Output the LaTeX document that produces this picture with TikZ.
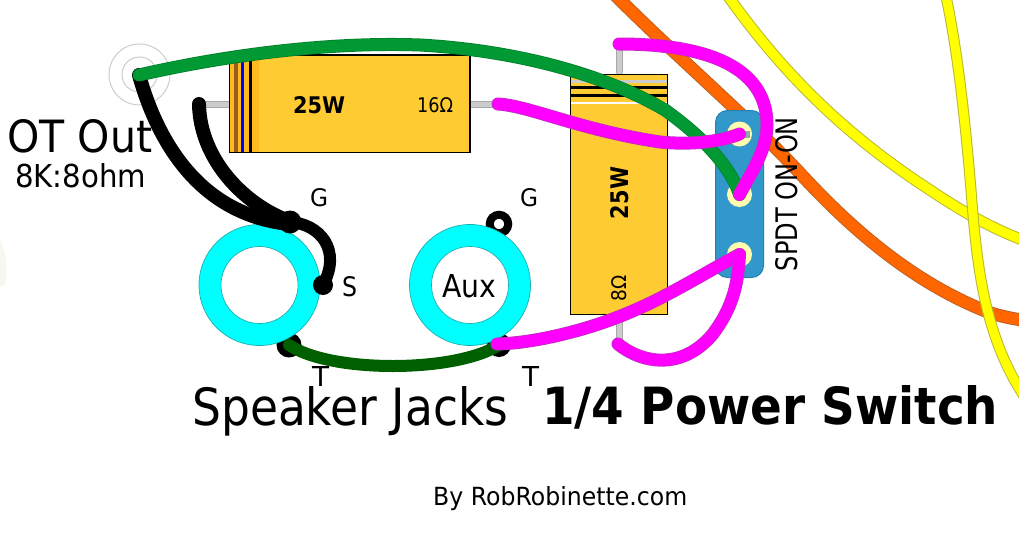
\documentclass[tikz,border=0pt]{standalone}
\usepackage{graphicx}
\usepackage{fontspec}
\setmainfont{DejaVu Sans}
\definecolor{resbody}{HTML}{FFCB33}
\definecolor{resdark}{HTML}{FFBA1F}
\definecolor{bandbrown}{HTML}{9A5B1E}
\definecolor{leadgray}{HTML}{CCCCCC}
\definecolor{leadedge}{HTML}{A8A8A8}
\definecolor{ringcyan}{HTML}{00FFFF}
\definecolor{jackedge}{HTML}{19B0B0}
\definecolor{lugc}{HTML}{FFFBAF}
\definecolor{lugrect}{HTML}{8FA8B0}
\definecolor{blueb}{HTML}{3298CC}
\definecolor{blueedge}{HTML}{2A7FAA}
\definecolor{grn}{HTML}{009933}
\definecolor{grne}{HTML}{007F2A}
\definecolor{dgrn}{HTML}{006000}
\definecolor{magw}{HTML}{FF00FF}
\definecolor{mage}{HTML}{C030C0}
\definecolor{orw}{HTML}{FF6600}
\definecolor{ore}{HTML}{C06020}
\definecolor{yel}{HTML}{FFFF00}
\definecolor{yele}{HTML}{B8B830}
\definecolor{faint}{HTML}{F7F7F0}
\tikzset{
 resistor/.style={draw=black,line width=1pt,fill=resbody,inner sep=0pt},
 jackring/.style={circle,draw=jackedge,line width=.7pt,fill=ringcyan,inner sep=0pt,minimum size=121pt},
 jackhole/.style={circle,draw=jackedge,line width=.7pt,fill=white,inner sep=0pt,minimum size=77pt},
 lugdisc/.style={circle,fill=lugc,inner sep=0pt,minimum size=25pt},
 tag/.style={inner sep=0pt,anchor=base west},
 blob/.style={circle,fill=black,inner sep=0pt,minimum size=#1},
}
\newcommand{\fitbox}[3]{\resizebox{#1pt}{#2pt}{#3}}
% cased wire: edge colour, fill colour, edge width, fill width, path
\newcommand{\wirepath}[5]{%
  \draw[line cap=round,line width=#3pt,draw=#1] #5;
  \draw[line cap=round,line width=#4pt,draw=#2] #5;}
\begin{document}
\begin{tikzpicture}[x=1pt,y=-1pt]
\useasboundingbox (0,0) rectangle (1019,533);
\fill[white] (0,0) rectangle (1019,533);
\fill[faint] (0,240) .. controls (6,250) and (8,270) .. (5,285) -- (0,287) -- cycle;
% background wires
\wirepath{ore}{orw}{13}{11}{(612,-8) .. controls (680,60) and (740,110) .. (797,170) .. controls (850,228) and (910,280) .. (983,310) .. controls (995,315) and (1008,318) .. (1028,321)}
\wirepath{yele}{yel}{11.5}{9.5}{(725,-8) .. controls (772,58) and (830,125) .. (930,190) .. controls (960,210) and (990,228) .. (1028,242)}
\wirepath{yele}{yel}{11}{9}{(945,-8) .. controls (958,50) and (966,130) .. (971,190) .. controls (977,270) and (985,340) .. (1028,402)}
% OT terminal
\node[circle,draw=leadgray,line width=1pt,inner sep=0pt,minimum size=61pt] (otouter) at (139.5,74.5) {};
\node[circle,draw=leadgray,line width=1pt,inner sep=0pt,minimum size=35pt] (otinner) at (139.5,74.5) {};
% resistor leads
\coordinate (l16a) at (200,104); \coordinate (l16b) at (232,104);
\coordinate (l16c) at (467,104); \coordinate (l16d) at (498,104);
\coordinate (l8a) at (619,46); \coordinate (l8b) at (619,72);
\coordinate (l8c) at (619,317); \coordinate (l8d) at (619,345);
\wirepath{leadedge}{leadgray}{7}{5}{(l16a) -- (l16b)}
\wirepath{leadedge}{leadgray}{7}{5}{(l16c) -- (l16d)}
\wirepath{leadedge}{leadgray}{7}{5}{(l8a) -- (l8b)}
\wirepath{leadedge}{leadgray}{7}{5}{(l8c) -- (l8d)}
% 16 ohm resistor
\node[resistor,minimum width=240pt,minimum height=97pt] (r16) at (349.5,103.5) {};
\fill[resdark] (229.5,55.5) rectangle (259,151.5);
\fill[bandbrown] (233.5,55.5) rectangle (237.5,151.5);
\fill[blue] (240.7,55.5) rectangle (244,151.5);
\fill[black] (249,55.5) rectangle (252,151.5);
\draw[black,line width=1pt] (r16.south west) rectangle (r16.north east);
\node[tag] (t25a) at (293,113) {\fitbox{52}{17}{\bfseries 25W}};
\node[tag] (t16) at (417,112) {\fitbox{36}{15}{16Ω}};
% 8 ohm resistor
\node[resistor,minimum width=97pt,minimum height=240pt] (r8) at (619,194.3) {};
\fill[leadgray] (571,80) rectangle (667,82.5);
\fill[black] (571,85.5) rectangle (667,88.5);
\fill[black] (571,93.5) rectangle (667,96.5);
\fill[white] (571,101.5) rectangle (667,103.5);
\node[inner sep=0pt,rotate=90] (t25b) at (620,193) {\fitbox{52}{18}{\bfseries 25W}};
\node[inner sep=0pt,rotate=90] (t8) at (619.5,288) {\fitbox{26}{15}{8Ω}};
% switch
\node[draw=blueedge,line width=1pt,fill=blueb,rounded corners=12pt,minimum width=48pt,minimum height=167pt,inner sep=0pt] (sw) at (739.5,194) {};
\node[lugdisc] (lug1) at (739.5,134) {};
\node[lugdisc] (lug2) at (739.5,194.5) {};
\node[lugdisc] (lug3) at (739.5,254.5) {};
\fill[lugrect] (743,131) rectangle (750,138);
\fill[lugrect] (733,190) rectangle (746,197);
\fill[lugrect] (733,251) rectangle (746,258);
\node[inner sep=0pt,rotate=90] (spdt) at (786.5,194) {\fitbox{154}{22}{SPDT ON-ON}};
% jack lugs
\node[blob=25pt] (lugTL) at (289,345) {};
\node[blob=24pt] (lugTR) at (499,345) {};
\node[circle,draw=black,line width=8pt,fill=white,inner sep=0pt,minimum size=18.5pt] (lugG) at (499,224) {};
% jacks
\node[jackring] (jackL) at (259.5,285) {};
\node[jackhole] (holeL) at (259.5,285) {};
\node[jackring] (jackR) at (470,285) {};
\node[jackhole] (holeR) at (470,285) {};
\node[tag] (aux) at (442,297) {\fitbox{54}{23}{Aux}};
% black wires
\node[blob=23pt] (lugGL) at (290,222) {};
\node[blob=20pt] (lugS) at (323,285) {};
\coordinate (ot1) at (139,75);
\coordinate (blk2) at (199,104);
\draw[line cap=round,line width=14pt,black] (ot1) .. controls (160,150) and (205,215) .. (289,224);
\draw[line cap=round,line width=14pt,black] (blk2) .. controls (200,160) and (245,205) .. (289,221);
\draw[line cap=round,line width=12pt,black] (lugGL.center) .. controls (320,224) and (342,250) .. (lugS.center);
% dark green
\draw[line cap=round,line width=12pt,draw=dgrn] (lugTL.center) .. controls (330,373) and (455,373) .. (lugTR.center);
% green wire
\wirepath{grne}{grn}{13}{11.5}{(ot1) .. controls (240,52) and (340,42) .. (420,45) .. controls (510,50) and (600,72) .. (665,110) .. controls (700,135) and (730,165) .. (lug2.center)}
% magenta wires
\wirepath{mage}{magw}{13}{11.5}{(498,104) .. controls (530,106) and (580,130) .. (660,142) .. controls (690,145) and (720,142) .. (lug1.center)}
\wirepath{mage}{magw}{13}{11.5}{(619,44) .. controls (680,44) and (767,55) .. (767,125) .. controls (767,150) and (750,175) .. (lug2.center)}
\wirepath{mage}{magw}{13}{11.5}{(497,344) .. controls (535,343) and (590,330) .. (635,310) .. controls (670,295) and (710,270) .. (lug3.center)}
\wirepath{mage}{magw}{13}{11.5}{(618,344) .. controls (640,362) and (680,372) .. (712,335) .. controls (735,305) and (738,280) .. (lug3.center)}
% labels
\node[tag] (ot) at (7,152) {\fitbox{145}{33}{OT Out}};
\node[tag] (ratio) at (15,187) {\fitbox{131}{24}{8K:8ohm}};
\node[tag] (gl) at (310,206) {\fitbox{18}{18}{G}};
\node[tag] (gr) at (520,206) {\fitbox{18}{18}{G}};
\node[tag] (sl) at (342,296) {\fitbox{15}{20}{S}};
\node[tag] (tl) at (312,386) {\fitbox{17}{20}{T}};
\node[tag] (tr) at (522,386) {\fitbox{17}{20}{T}};
\node[tag] (spk) at (192,425) {\fitbox{316}{39}{Speaker Jacks}};
\node[tag] (pow) at (542,424) {\fitbox{456}{39}{\bfseries 1/4 Power Switch}};
\node[tag] (by) at (433,505) {\fitbox{254}{19}{By RobRobinette.com}};
\end{tikzpicture}
\end{document}
